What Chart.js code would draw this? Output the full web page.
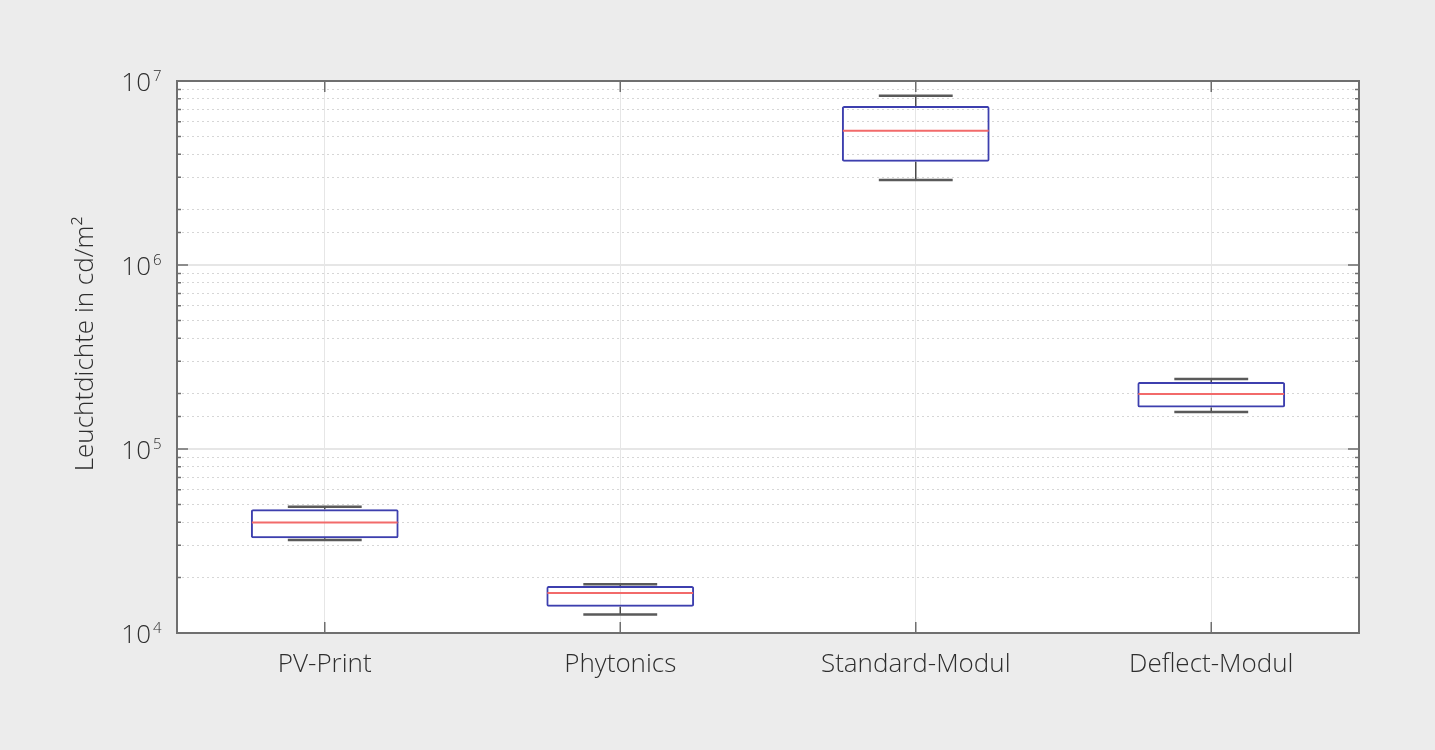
<!DOCTYPE html>
<html>
<head>
<meta charset="utf-8">
<script src="https://cdn.jsdelivr.net/npm/chart.js@4.4.1/dist/chart.umd.min.js"></script>
<style>
    html, body { margin: 0; padding: 0; background: #ececec; }
    #box { display: block; }
</style>
</head>
<body>
<canvas id="box" width="1435" height="750"></canvas>
<script>
// Dados (cd/m²)
const categorias = ['PV-Print', 'Phytonics', 'Standard-Modul', 'Deflect-Modul'];
const bigodeInf = [3.20e4, 1.26e4, 2.90e6, 1.59e5];
const quartil1 = [3.27e4, 1.39e4, 3.64e6, 1.68e5];
const mediana = [3.98e4, 1.65e4, 5.37e6, 1.99e5];
const quartil3 = [4.70e4, 1.80e4, 7.31e6, 2.31e5];
const bigodeSup = [4.86e4, 1.84e4, 8.32e6, 2.40e5];
const expoentes = [4, 5, 6, 7];

const FONTE = '"Open Sans", "Lato", sans-serif';
const ehMaior = v => Math.abs(Math.log10(v) - Math.round(Math.log10(v))) < 1e-9;

// Fundo branco da área do gráfico
const fundoPlugin = {
    id: 'fundo',
    beforeDraw(chart) {
        const { ctx, chartArea: a } = chart;
        ctx.save();
        ctx.fillStyle = '#ffffff';
        ctx.fillRect(a.left, a.top, a.right - a.left, a.bottom - a.top);
        ctx.restore();
    }
};

// Bigodes, mediana, moldura, marcas internas e rótulos do eixo y
const boxPlugin = {
    id: 'boxExtras',
    afterDatasetsDraw(chart) {
        const { ctx } = chart;
        const y = chart.scales.y;
        const meta = chart.getDatasetMeta(0);
        ctx.save();
        meta.data.forEach((bar, i) => {
            const x = bar.x;
            const w = bar.width;
            const yQ1 = y.getPixelForValue(quartil1[i]);
            const yQ3 = y.getPixelForValue(quartil3[i]);
            const yLo = y.getPixelForValue(bigodeInf[i]);
            const yHi = y.getPixelForValue(bigodeSup[i]);
            const yMed = y.getPixelForValue(mediana[i]);

            ctx.strokeStyle = '#4a4a4a';
            ctx.lineWidth = 1.5;
            ctx.beginPath();
            ctx.moveTo(x, yQ3); ctx.lineTo(x, yHi);
            ctx.moveTo(x, yQ1); ctx.lineTo(x, yLo);
            ctx.stroke();

            ctx.strokeStyle = '#5a5a5a';
            ctx.lineWidth = 2.5;
            ctx.beginPath();
            ctx.moveTo(x - w / 4, yHi); ctx.lineTo(x + w / 4, yHi);
            ctx.moveTo(x - w / 4, yLo); ctx.lineTo(x + w / 4, yLo);
            ctx.stroke();

            ctx.strokeStyle = '#f26a6a';
            ctx.lineWidth = 2;
            ctx.beginPath();
            ctx.moveTo(x - w / 2 + 1, yMed); ctx.lineTo(x + w / 2 - 1, yMed);
            ctx.stroke();
        });
        ctx.restore();
    },
    afterDraw(chart) {
        const { ctx, chartArea: a } = chart;
        const y = chart.scales.y;
        const x = chart.scales.x;
        ctx.save();
        ctx.strokeStyle = '#6f6f6f';
        ctx.lineWidth = 1.5;
        ctx.beginPath();
        y.ticks.forEach(t => {
            const py = y.getPixelForValue(t.value);
            const len = ehMaior(t.value) ? 11 : 4;
            ctx.moveTo(a.left, py); ctx.lineTo(a.left + len, py);
            ctx.moveTo(a.right, py); ctx.lineTo(a.right - len, py);
        });
        categorias.forEach((_, i) => {
            const px = x.getPixelForValue(i);
            ctx.moveTo(px, a.bottom); ctx.lineTo(px, a.bottom - 11);
            ctx.moveTo(px, a.top); ctx.lineTo(px, a.top + 11);
        });
        ctx.stroke();

        ctx.lineWidth = 2;
        ctx.strokeRect(a.left, a.top, a.right - a.left, a.bottom - a.top);

        // rótulos 10^n
        ctx.fillStyle = '#2e2e2e';
        ctx.textBaseline = 'middle';
        expoentes.forEach(e => {
            const py = y.getPixelForValue(Math.pow(10, e));
            ctx.font = '300 26px ' + FONTE;
            ctx.textAlign = 'right';
            ctx.fillText('10', 151, py + 3);
            ctx.font = '300 15px ' + FONTE;
            ctx.textAlign = 'left';
            ctx.fillText(String(e), 153, py - 4);
        });

        // título do eixo y
        ctx.translate(86, 344);
        ctx.rotate(-Math.PI / 2);
        ctx.textAlign = 'center';
        ctx.font = '300 26px ' + FONTE;
        ctx.fillText('Leuchtdichte in cd/m²', 0, 0);
        ctx.restore();
    }
};

const ctx = document.getElementById('box').getContext('2d');
new Chart(ctx, {
    type: 'bar',
    data: {
        labels: categorias,
        datasets: [{
            label: 'Box',
            data: quartil1.map((q, i) => [q, quartil3[i]]),
            backgroundColor: 'rgba(255,255,255,0)',
            borderColor: '#3d3fae',
            borderWidth: 2,
            borderSkipped: false,
            borderRadius: 2,
            barPercentage: 0.5,
            categoryPercentage: 1,
        }],
    },
    options: {
        responsive: false,
        animation: false,
        layout: { padding: { left: 0, top: 81, right: 76, bottom: 0 } },
        plugins: {
            legend: { display: false },
            tooltip: { enabled: false },
        },
        scales: {
            x: {
                offset: true,
                grid: { offset: false, color: '#e6e6e6', lineWidth: 1, drawTicks: false },
                border: { display: false },
                ticks: {
                    padding: 16,
                    color: '#2e2e2e',
                    font: { family: FONTE, size: 26, weight: 300 },
                },
                afterFit: s => { s.height = 117; },
            },
            y: {
                type: 'logarithmic',
                min: 1e4,
                max: 1e7,
                grid: {
                    drawTicks: false,
                    color: c => (c.tick && ehMaior(c.tick.value)) ? '#e6e6e6' : '#d6d6d6',
                    lineWidth: c => (c.tick && ehMaior(c.tick.value)) ? 2 : 1,
                },
                border: {
                    display: false,
                    dash: c => (c.tick && !ehMaior(c.tick.value)) ? [2, 3] : [],
                },
                ticks: { display: false, autoSkip: false },
                afterFit: s => { s.width = 177; },
            },
        },
    },
    plugins: [fundoPlugin, boxPlugin],
});
</script>
</body>
</html>
